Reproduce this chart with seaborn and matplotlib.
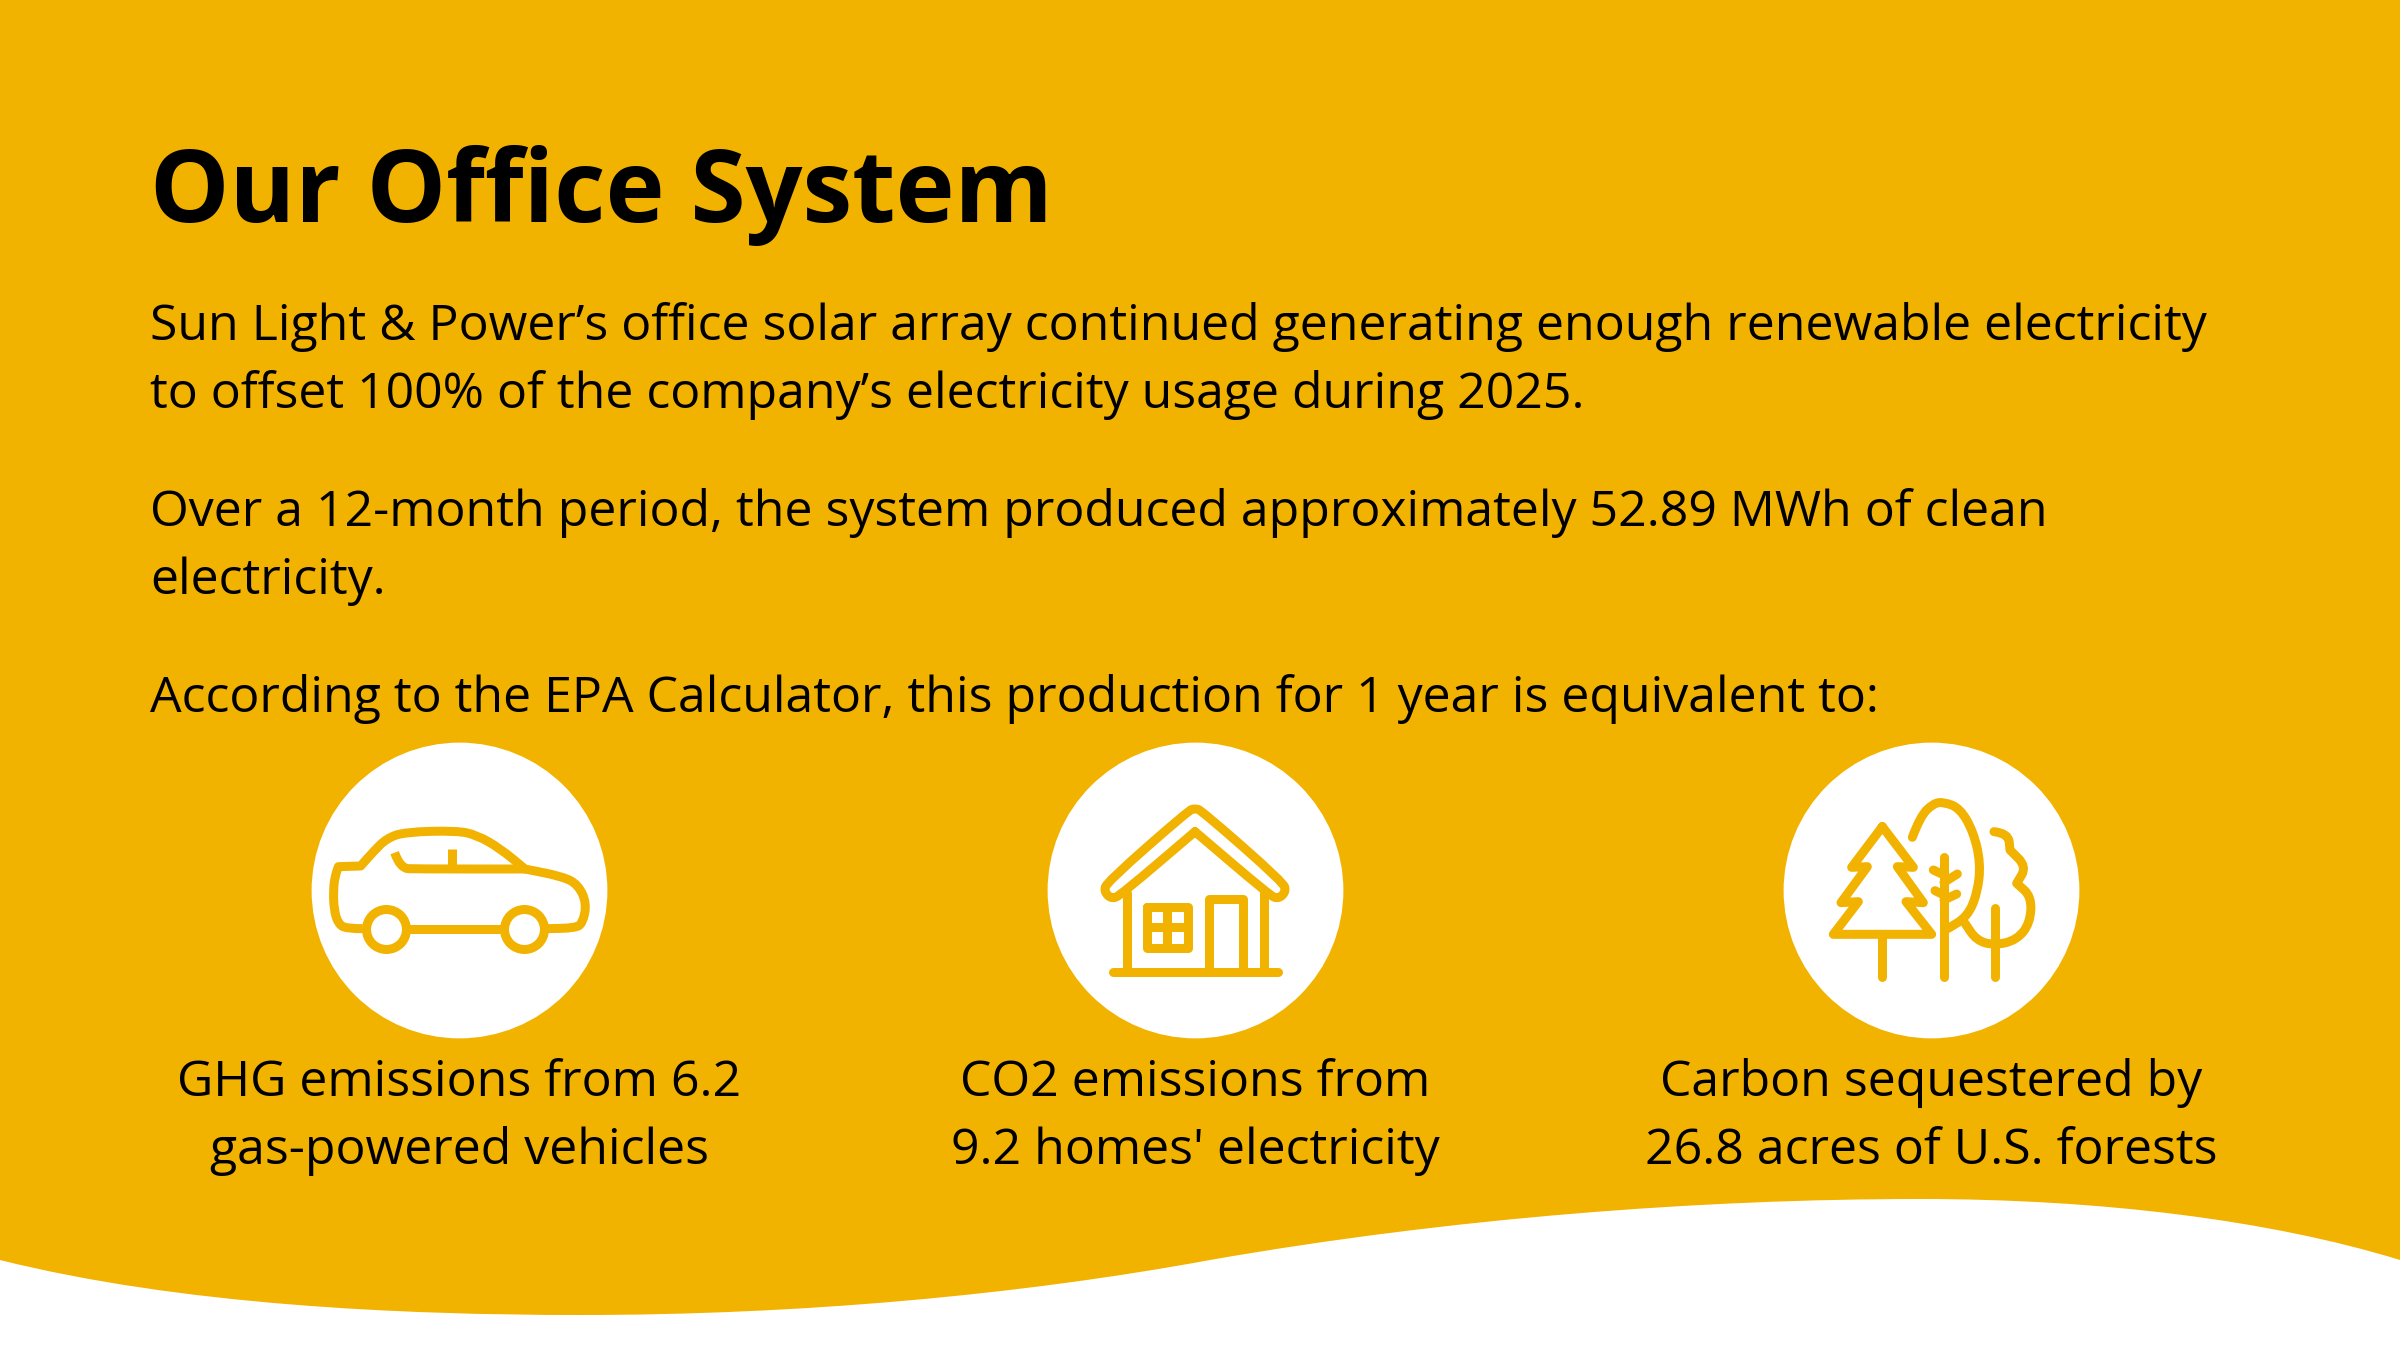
import matplotlib
matplotlib.use("Agg")
import matplotlib.pyplot as plt
import seaborn as sb
from matplotlib.path import Path
from matplotlib.patches import PathPatch

YELLOW = "#F2B200"
STROKE = 9 / 2.78

sb.set_theme(style="white")
plt.rcParams['font.family'] = ['Open Sans', 'DejaVu Sans']

title = "Our Office System"
body_lines = ["Sun Light & Power’s office solar array continued generating enough renewable electricity",
              "to offset 100% of the company’s electricity usage during 2025.",
              "Over a 12-month period, the system produced approximately 52.89 MWh of clean",
              "electricity.",
              "According to the EPA Calculator, this production for 1 year is equivalent to:"]
body_baselines = [340.5, 408.5, 526.5, 594.5, 712.5]
caption_top = ["GHG emissions from 6.2", "CO2 emissions from", "Carbon sequestered by"]
caption_bottom = ["gas-powered vehicles", "9.2 homes' electricity", "26.8 acres of U.S. forests"]
icon_x = [459, 1195, 1931]
icon_y = [890, 890, 890]

# icon strokes, in 3x crop coordinates
car_body = [(218, 626), (170, 626), (145, 612), (132, 570), (130, 510), (135, 470), (145, 440), (145, 440),
            (212, 438), (212, 438), (250, 395), (290, 355), (345, 336), (500, 332), (560, 345), (630, 385),
            (705, 447), (705, 447), (820, 470), (865, 495), (890, 550), (878, 610), (855, 624), (773, 626)]
car_sill = [(358, 626), (632, 626)]
car_window = [(314, 398), (330, 445), (380, 447), (705, 447)]
car_pillar = [(487, 387), (487, 447)]
car_wheels = [(288, 626), (702, 626)]

roof = [(495, 335), (495, 335), (272, 525), (245, 537), (222, 515), (230, 487), (475, 272), (495, 265), (515, 272),
        (760, 487), (768, 515), (745, 537), (718, 525), (495, 335), (495, 335)]
house_lines = [[(290, 520), (290, 755)], [(702, 520), (702, 755)], [(248, 755), (743, 755)],
               [(412, 560), (412, 683)], [(351, 622), (473, 622)]]
door = [(538, 755), (538, 538), (640, 538), (640, 755)]
window = [(351, 560), (473, 560), (473, 683), (351, 683), (351, 560)]

pine = [(367, 320), (460, 442), (412, 440), (490, 548), (438, 545), (515, 643), (220, 643), (295, 545), (243, 548),
        (322, 440), (275, 442), (367, 320)]
tree_lines = [[(367, 650), (367, 772)], [(552, 412), (552, 772)], [(705, 565), (705, 772)],
              [(520, 450), (552, 465)], [(592, 462), (552, 487)], [(525, 512), (552, 525)], [(590, 522), (552, 540)]]
oak = [(457, 352), (480, 290), (520, 250), (552, 246), (600, 265), (640, 335), (662, 430), (652, 520), (622, 590),
       (565, 625)]
bush = [(702, 335), (745, 340), (750, 390), (750, 390), (800, 440), (770, 490), (770, 490), (815, 530), (810, 610),
        (770, 660), (705, 676), (650, 662), (615, 610)]


def stroke(ax, pts, origin, cap="round"):
    # quadratic spline through the midpoints, repeat a point to keep a corner
    pts = [(origin[0] + x / 3, origin[1] + y / 3) for x, y in pts]
    verts = [pts[0]]
    codes = [Path.MOVETO]
    for i in range(1, len(pts) - 1):
        mid = ((pts[i][0] + pts[i + 1][0]) / 2, (pts[i][1] + pts[i + 1][1]) / 2)
        verts += [pts[i], mid]
        codes += [Path.CURVE3, Path.CURVE3]
    verts.append(pts[-1])
    codes.append(Path.LINETO)
    ax.add_patch(PathPatch(Path(verts, codes), fill=False, edgecolor=YELLOW, linewidth=STROKE, capstyle=cap,
                           joinstyle="round", zorder=4))


def sharp(ax, pts, origin):
    ax.add_patch(PathPatch(Path([(origin[0] + x / 3, origin[1] + y / 3) for x, y in pts]), fill=False,
                           edgecolor=YELLOW, linewidth=STROKE, capstyle="round", joinstyle="round", zorder=4))


def main():
    fig = plt.figure(figsize=(12, 6.75), dpi=200, facecolor="white")
    ax = fig.add_axes([0, 0, 1, 1])

    # yellow band with the wavy lower edge
    wave = Path([(0, 0), (0, 1260),
                 (180, 1305), (400, 1315), (580, 1315),
                 (800, 1315), (1020, 1295), (1210, 1260),
                 (1450, 1218), (1700, 1199), (1920, 1199),
                 (2100, 1199), (2270, 1220), (2400, 1260),
                 (2400, 0), (0, 0)],
                [Path.MOVETO, Path.LINETO] + [Path.CURVE4] * 12 + [Path.LINETO, Path.CLOSEPOLY])
    ax.add_patch(PathPatch(wave, facecolor=YELLOW, edgecolor="none", zorder=1))

    ax.text(150, 222, title, fontsize=36, fontweight="bold", color="black", va="baseline", ha="left", zorder=5)
    for line, y in zip(body_lines, body_baselines):
        ax.text(150, y, line, fontsize=18.02, color="black", va="baseline", ha="left", zorder=5)
    for x, top, bottom in zip(icon_x, caption_top, caption_bottom):
        ax.text(x, 1095.5, top, fontsize=18.02, color="black", va="baseline", ha="center", zorder=5)
        ax.text(x, 1164.5, bottom, fontsize=18.02, color="black", va="baseline", ha="center", zorder=5)

    sb.scatterplot(x=icon_x, y=icon_y, s=(296 / 2.78) ** 2, color="white", linewidth=0, ax=ax, zorder=3, legend=False)

    # car
    o = (290, 720)
    stroke(ax, car_body, o, cap="butt")
    stroke(ax, car_sill, o, cap="butt")
    stroke(ax, car_window, o, cap="butt")
    stroke(ax, car_pillar, o, cap="butt")
    sb.scatterplot(x=[o[0] + c[0] / 3 for c in car_wheels], y=[o[1] + c[1] / 3 for c in car_wheels],
                   s=(40 / 2.78) ** 2, facecolor="white", edgecolor=YELLOW, linewidth=STROKE, ax=ax, zorder=5,
                   legend=False)

    # house
    o = (1030, 720)
    stroke(ax, roof, o)
    sharp(ax, door, o)
    sharp(ax, window, o)
    for seg in house_lines:
        stroke(ax, seg, o)

    # trees
    o = (1760, 720)
    sharp(ax, pine, o)
    stroke(ax, oak, o)
    stroke(ax, bush, o)
    for seg in tree_lines:
        stroke(ax, seg, o)

    ax.set_xlim(0, 2400)
    ax.set_ylim(1350, 0)
    ax.axis("off")
    fig.savefig("out.png", dpi=200, facecolor="white")


if __name__ == "__main__":
    main()
